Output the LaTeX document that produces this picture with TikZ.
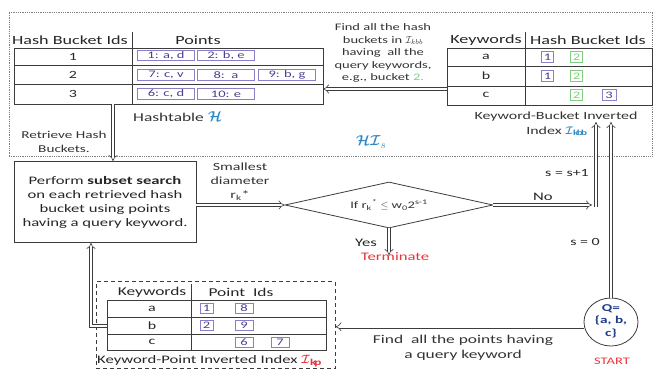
\documentclass[tikz,border=0pt]{standalone}
\usepackage{amsmath}
\usepackage{fontspec}
\setmainfont{Carlito}[FakeStretch=1.45]
\usetikzlibrary{arrows.meta,shapes.geometric}
\definecolor{lc}{HTML}{3C3C3C}
\definecolor{purp}{HTML}{8C7FC9}
\definecolor{purpt}{HTML}{4B3F8F}
\definecolor{grn}{HTML}{7ED07E}
\definecolor{hblue}{HTML}{2E86C4}
\definecolor{tred}{HTML}{E8343A}
\definecolor{qblue}{HTML}{1F3C88}
\newcommand{\fsz}[2]{\fontsize{#1}{#2}\selectfont}
\tikzset{
  tbl/.style={draw=lc, line width=0.9pt, inner sep=0pt},
  tline/.style={draw=lc, line width=0.9pt},
  pbox/.style={draw=purp, line width=0.7pt, text=purpt, inner sep=0pt,
    minimum width=57pt, minimum height=10.5pt, font=\fsz{10}{11}},
  ibox/.style={draw=purp, line width=0.7pt, text=purpt, inner sep=0pt,
    minimum width=#1, minimum height=10.5pt, font=\fsz{10}{11}},
  gbox/.style={draw=grn, line width=0.7pt, text=grn, inner sep=0pt,
    minimum width=12pt, minimum height=10.5pt, font=\fsz{10}{11}},
  hdr/.style={text=black!85, inner sep=0pt, font=\fsz{12.5}{14}},
  cell/.style={text=black!85, inner sep=0pt, font=\fsz{11}{12}},
  lbl/.style={text=black!80, inner sep=0pt, align=center, font=\fsz{10}{12.5}},
  dbl/.style={draw=lc, line width=0.6pt, double=white, double distance=2.6pt,
    -{Implies}},
}
\begin{document}
\begin{tikzpicture}[x=1pt,y=-1pt]
\useasboundingbox (0,0) rectangle (654,371);

% dotted frame of the hashing structure
\node[draw=gray, densely dotted, line width=0.8pt, minimum width=643pt,
  minimum height=144pt, inner sep=0pt] (hiframe) at (330.5,84) {};
\node[text=hblue, inner sep=0pt, font=\fsz{15}{16}] (hilbl) at (371,142)
  {$\boldsymbol{\mathcal{H}\mathcal{I}}_{s}$};

% hashtable
\node[hdr] (hthdr1) at (70,40) {Hash Bucket Ids};
\node[hdr] (hthdr2) at (198,40) {Points};
\node[tbl, minimum width=309pt, minimum height=56pt] (ht) at (168.5,76) {};
\draw[tline] (132,32) -- (132,104);
\draw[tline] (14,65) -- (323,65) (14,84) -- (323,84);
\node[cell] (htr1) at (73,56.5) {1};
\node[cell] (htr2) at (73,74.5) {2};
\node[cell] (htr3) at (73,94) {3};
\node[pbox] (p11) at (166,55.5) {1: a, d};
\node[pbox] (p12) at (226,55.5) {2: b, e};
\node[pbox] (p21) at (166,75) {7: c, v};
\node[pbox] (p22) at (226,75) {8:\ \ a};
\node[pbox] (p23) at (287,75) {9: b, g};
\node[pbox] (p31) at (166,94) {6: c, d};
\node[pbox] (p32) at (226,94) {10: e};
\node[anchor=west, inner sep=0pt, font=\fsz{12}{14}, text=black!80] (htcap) at (133,117)
  {Hashtable \textcolor{hblue}{\fsz{15}{16}$\boldsymbol{\mathcal{H}}$}};
\node[lbl, font=\fsz{10.5}{14}] (retr) at (64,142) {Retrieve Hash\\Buckets.};

% keyword-bucket inverted index
\node[hdr] (kbhdr1) at (486,40) {Keywords};
\node[hdr] (kbhdr2) at (588,40) {Hash Bucket Ids};
\node[tbl, minimum width=205pt, minimum height=57pt] (kb) at (549.5,76.5) {};
\draw[tline] (525,32) -- (525,105);
\draw[tline] (447,66) -- (652,66) (447,86) -- (652,86);
\node[cell] (kbr1) at (486,57) {a};
\node[cell] (kbr2) at (486,76) {b};
\node[cell] (kbr3) at (486,95) {c};
\node[ibox=12pt] (b11) at (547.5,57) {1};
\node[gbox] (b12) at (576.5,57) {2};
\node[ibox=12pt] (b21) at (547.5,76) {1};
\node[gbox] (b22) at (576.5,76) {2};
\node[gbox] (b32) at (576.5,95) {2};
\node[ibox=14pt] (b33) at (609,95) {3};
\node[lbl, font=\fsz{11}{14.5}] (kbcap) at (556,124)
  {Keyword-Bucket Inverted\\Index \textcolor{hblue}{$\boldsymbol{\mathcal{I}}_{\mathbf{kbb}}$}};
\node[lbl] (findb) at (383,53)
  {Find all the hash\\buckets in $\mathcal{I}_{kbb}$\\having\ \ all the\\query keywords,\\e.g., bucket \textcolor{grn}{2.}};

% subset search and decision
\node[draw=lc, line width=0.9pt, minimum width=182pt, minimum height=81pt,
  align=center, inner sep=0pt, font=\fsz{11.5}{14}, text=black!85] (perf) at (105,202)
  {Perform \textbf{subset search}\\on each retrieved hash\\bucket using points\\having a query keyword.};
\node[lbl, font=\fsz{11}{14}] (smd) at (240,182)
  {Smallest\\diameter\\r\textsubscript{k}*};
\node[draw=lc, line width=0.8pt, diamond, aspect=4.5, minimum width=208pt,
  minimum height=46pt, inner sep=0pt] (dec) at (389,205) {};
\node[inner sep=0pt, font=\fsz{10}{11}, text=black!80] (dectxt) at (389,205)
  {If r\textsubscript{k}\textsuperscript{*} $\le$ w\textsubscript{0}2\textsuperscript{s-1}};
\node[cell, font=\fsz{11.5}{13}] (yes) at (366,243) {Yes};
\node[cell, text=tred, font=\fsz{11.5}{13}] (term) at (395,257) {Terminate};
\node[cell, font=\fsz{11.5}{13}] (no) at (543,197) {No};
\node[cell, font=\fsz{11}{13}] (sinc) at (567,173) {s = s+1};
\node[cell, font=\fsz{11}{13}] (szero) at (585,242) {s = 0};

% keyword-point inverted index
\node[draw=lc, dashed, dash pattern=on 4pt off 3pt, line width=1pt,
  minimum width=239pt, minimum height=87pt, inner sep=0pt] (kpframe) at (215.5,325.5) {};
\node[hdr, font=\fsz{12}{14}] (kphdr1) at (152,292) {Keywords};
\node[hdr, font=\fsz{12}{14}] (kphdr2) at (241,292) {Point\ \ Ids};
\node[tbl, minimum width=219pt, minimum height=50pt] (kp) at (216.5,325) {};
\draw[tline] (191,284) -- (191,350);
\draw[tline] (107,317) -- (326,317) (107,334) -- (326,334);
\node[cell] (kpr1) at (152,308.5) {a};
\node[cell] (kpr2) at (152,325.5) {b};
\node[cell] (kpr3) at (152,342) {c};
\node[ibox=13pt] (k11) at (206.5,308.5) {1};
\node[ibox=18pt] (k12) at (244,308.5) {8};
\node[ibox=13pt] (k21) at (206.5,325.5) {2};
\node[ibox=18pt] (k22) at (244,325.5) {9};
\node[ibox=18pt] (k32) at (244,342.5) {6};
\node[ibox=18pt] (k33) at (280,342.5) {7};
\node[anchor=west, inner sep=0pt, font=\fsz{11.5}{13}, text=black!85] (kpcap) at (97,361)
  {Keyword-Point Inverted Index \textcolor{tred}{\fsz{13}{14}$\boldsymbol{\mathcal{I}}_{\mathbf{kp}}$}};

% query
\node[draw=lc, line width=0.8pt, ellipse, minimum width=54pt, minimum height=48pt,
  inner sep=0pt] (q) at (611,322) {};
\node[text=qblue, align=center, inner sep=0pt, font=\bfseries\fsz{10.5}{12.5}] (qtxt) at (611,321)
  {Q=\\\{a, b,\\c\}};
\node[text=tred, inner sep=0pt, font=\fsz{10}{12}] (start) at (612,361) {START};
\node[lbl, font=\fsz{12}{15}] (findp) at (463,348)
  {Find\ \ all the points having\\a query keyword};

% connector end points
\coordinate (kbw) at (447,89);
\coordinate (hte) at (323,89);
\coordinate (rx) at (113,0);
\coordinate (yesend) at (389,255);
\coordinate (noend) at (592,205);
\coordinate (nocorner) at (596,207.5);
\coordinate (idxl) at (596,122);
\coordinate (idxr) at (611,122);
\coordinate (kpj) at (91,326);

% connectors
\draw[dbl] (kbw) -- (hte);
\draw[dbl] (ht.south -| rx) -- (perf.north -| rx);
\draw[dbl] (perf.east |- dec.west) -- (dec.west);
\draw[dbl] (dec.south) -- (yesend);
\draw[dbl] (dec.east) -- (noend);
\draw[dbl] (nocorner) -- (idxl);
\draw[dbl] (q.north) -- (idxr);
\draw[dbl] (q.190) -- (q.190 -| kpframe.east);
\draw[dbl] (kp.west |- kpj) -- (kpj) -- (kpj |- perf.south);
\end{tikzpicture}
\end{document}
